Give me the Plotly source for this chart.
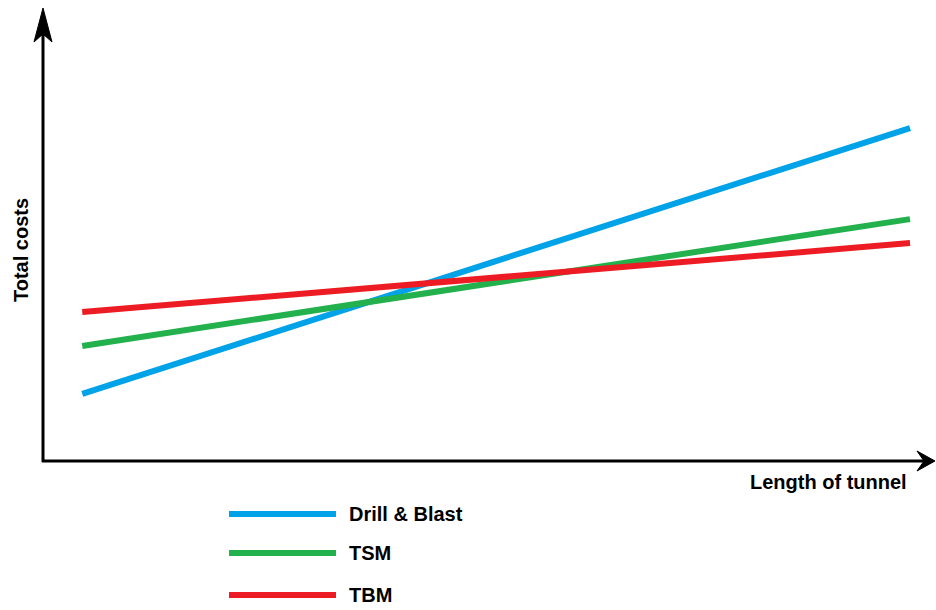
import plotly.graph_objects as go

# ---- data (arbitrary units) ----
tunnel_length = [4.4, 97.2]
drill_blast = [14.8, 73.5]
tsm = [25.4, 53.4]
tbm = [32.9, 48.1]

series_names = ["Drill & Blast", "TSM", "TBM"]
series_values = [drill_blast, tsm, tbm]
series_colors = ["#00A2E8", "#22B14C", "#ED1C24"]

x_title = "Length of tunnel"
y_title = "Total costs"

W, H = 936, 610
# plot area in page-pixel coordinates
X0, X1, Y0, Y1 = 43, 935, 8, 461
L, T = X0, Y0
R, B = W - X1, H - Y1
PW, PH = X1 - X0, Y1 - Y0


def px(x):
    return (x - X0) / PW


def py(y):
    return (Y1 - y) / PH


fig = go.Figure()
for name, vals, col in zip(series_names, series_values, series_colors):
    fig.add_trace(go.Scatter(x=tunnel_length, y=vals, mode="lines", name=name,
                             line=dict(color=col, width=6), showlegend=False))

font = dict(family="Liberation Sans, Arial, sans-serif", size=20, color="black")
shapes = []
annotations = []

# axes lines
shapes.append(dict(type="line", xref="paper", yref="paper",
                   x0=px(43), y0=py(462), x1=px(43), y1=py(30),
                   line=dict(color="black", width=3)))
shapes.append(dict(type="line", xref="paper", yref="paper",
                   x0=px(42), y0=py(461), x1=px(925), y1=py(461),
                   line=dict(color="black", width=3)))


def path(pts):
    return "M " + " L ".join(f"{px(a):.5f},{py(b):.5f}" for a, b in pts) + " Z"


# arrow heads
shapes.append(dict(type="path", xref="paper", yref="paper",
                   path=path([(43, 8), (52, 42), (43, 34), (34, 42)]),
                   fillcolor="black", line=dict(color="black", width=1)))
shapes.append(dict(type="path", xref="paper", yref="paper",
                   path=path([(935, 461), (917, 471), (924, 461), (917, 451)]),
                   fillcolor="black", line=dict(color="black", width=1)))

# axis titles
annotations.append(dict(text=f"<b>{y_title}</b>", xref="paper", yref="paper",
                        x=px(21), y=py(250), textangle=-90, showarrow=False,
                        xanchor="center", yanchor="middle", font=font))
annotations.append(dict(text=f"<b>{x_title}</b>", xref="paper", yref="paper",
                        x=px(909), y=py(482), showarrow=False,
                        xanchor="right", yanchor="middle", font=font))

# manual legend
legend_y = [514, 553, 595]
for name, col, ly in zip(series_names, series_colors, legend_y):
    shapes.append(dict(type="line", xref="paper", yref="paper",
                       x0=px(229), x1=px(336), y0=py(ly), y1=py(ly),
                       line=dict(color=col, width=6)))
    annotations.append(dict(text=f"<b>{name}</b>", xref="paper", yref="paper",
                            x=px(347), y=py(ly), showarrow=False,
                            xanchor="left", yanchor="middle", font=font))

fig.update_layout(
    width=W, height=H,
    margin=dict(l=L, r=R, t=T, b=B, pad=0),
    paper_bgcolor="white", plot_bgcolor="white",
    xaxis=dict(range=[0, 100], visible=False, fixedrange=True),
    yaxis=dict(range=[0, 100], visible=False, fixedrange=True),
    shapes=shapes, annotations=annotations,
    showlegend=False,
)
fig.write_html("out.html", config={"displayModeBar": False},
               post_script="document.body.style.margin='0';document.body.style.overflow='hidden';")
